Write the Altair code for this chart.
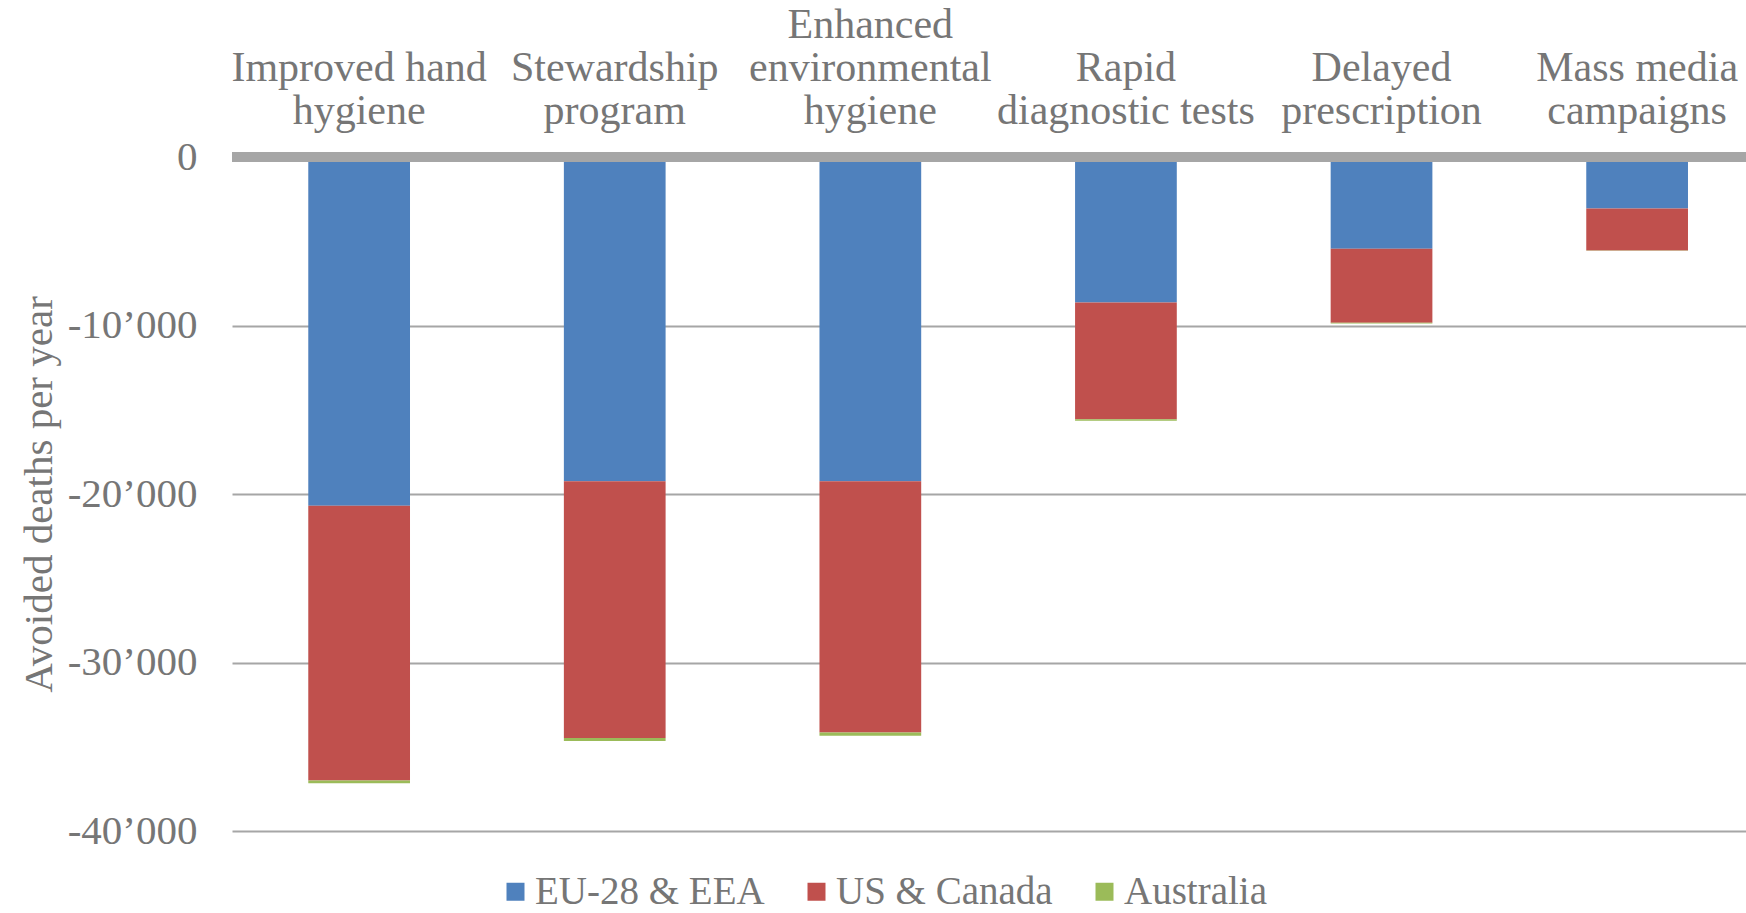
import altair as alt
import pandas as pd

# ---- data ----
label_lines = [
    " |Improved hand|hygiene",
    " |Stewardship|program",
    "Enhanced|environmental|hygiene",
    " |Rapid|diagnostic tests",
    " |Delayed|prescription",
    " |Mass media|campaigns",
]
series = ["EU-28 & EEA", "US & Canada", "Australia"]
eu = [-20690, -19250, -19250, -8630, -5450, -3060]
us = [-16320, -15230, -14910, -6930, -4390, -2490]
au = [-160, -180, -180, -90, -40, -20]
colors = ["#4F81BD", "#C0504D", "#9BBB59"]
y_ticks = [0, -10000, -20000, -30000, -40000]

rows = []
for i, c in enumerate(label_lines):
    for k, (s, vals) in enumerate(zip(series, [eu, us, au])):
        rows.append({"cat": c, "series": s, "value": vals[i], "ord": k})
df = pd.DataFrame(rows)
zero_df = pd.DataFrame({"value": [0]})

FONT = "Liberation Serif"
TXT = "#767676"
GRID = "#A6A6A6"

bars = alt.Chart(df).mark_bar().encode(
    x=alt.X(
        "cat:N",
        sort=label_lines,
        scale=alt.Scale(paddingInner=0.602, paddingOuter=0.2627, align=0.568),
        axis=alt.Axis(
            orient="top",
            title=None,
            domain=False,
            ticks=False,
            labelAngle=0,
            labelFont=FONT,
            labelFontSize=42,
            labelColor=TXT,
            labelLineHeight=43,
            labelBaseline="alphabetic",
            labelPadding=120,
            labelLimit=600,
            labelExpr="split(datum.label, '|')",
        ),
    ),
    y=alt.Y(
        "value:Q",
        stack="zero",
        scale=alt.Scale(domain=[-40000, 0], nice=False),
        axis=alt.Axis(
            title="Avoided deaths per year",
            values=y_ticks,
            grid=True,
            gridColor=GRID,
            gridWidth=1.8,
            domain=False,
            ticks=False,
            labelFont=FONT,
            labelFontSize=41,
            labelColor=TXT,
            labelPadding=35,
            labelExpr="datum.value == 0 ? '0' : '-' + replace(format(abs(datum.value), ','), ',', '\u2019')",
            titleFont=FONT,
            titleFontSize=41,
            titleFontWeight="normal",
            titleColor=TXT,
            titleX=-172,
            titleY=337,
            titleAlign="center",
        ),
    ),
    color=alt.Color(
        "series:N",
        scale=alt.Scale(domain=series, range=colors),
        legend=alt.Legend(
            title=None,
            orient="none",
            legendX=264,
            legendY=715,
            direction="horizontal",
            symbolType="square",
            symbolSize=324,
            symbolStrokeWidth=0,
            labelFont=FONT,
            labelFontSize=39,
            labelColor=TXT,
            labelLimit=600,
            labelOffset=0,
            columnPadding=32,
            padding=0,
        ),
    ),
    order=alt.Order("ord:Q"),
)

zero_line = alt.Chart(zero_df).mark_rule(color=GRID, strokeWidth=10).encode(
    y=alt.Y("value:Q")
)

chart = (
    alt.layer(bars, zero_line)
    .properties(
        width=1514,
        height=674,
        padding={"left": 232, "top": 157, "right": 0, "bottom": 82},
        autosize=alt.AutoSizeParams(type="none"),
        background="white",
    )
    .configure_view(stroke=None)
)

chart.save("out.html", embed_options={"renderer": "svg", "actions": False})
